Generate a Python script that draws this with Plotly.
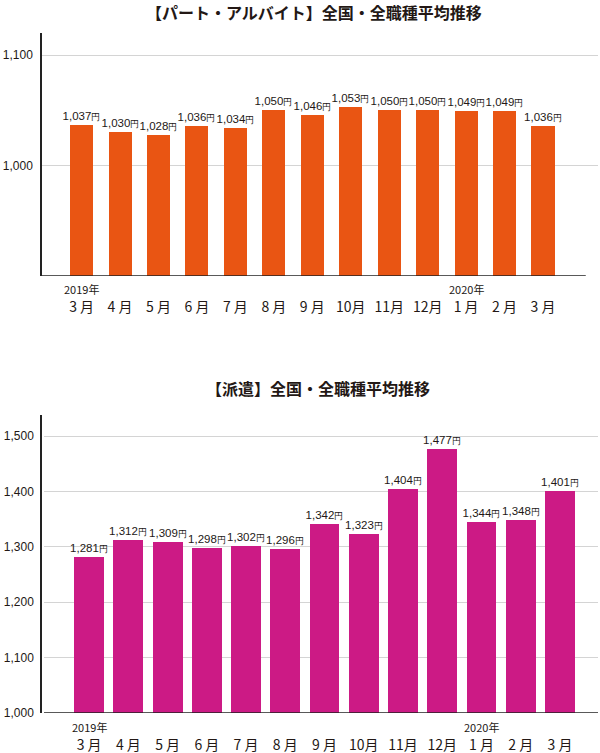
import plotly.graph_objects as go

months = ["3 月", "4 月", "5 月", "6 月", "7 月", "8 月", "9 月", "10月", "11月", "12月", "1 月", "2 月", "3 月"]
year_labels = ["2019年", "2020年"]
year_positions = [0, 10]
part_values = [1037, 1030, 1028, 1036, 1034, 1050, 1046, 1053, 1050, 1050, 1049, 1049, 1036]
haken_values = [1281, 1312, 1309, 1298, 1302, 1296, 1342, 1323, 1404, 1477, 1344, 1348, 1401]
title_part = "【パート・アルバイト】全国・全職種平均推移"
title_haken = "【派遣】全国・全職種平均推移"

ORANGE = "#E95513"
MAGENTA = "#CC1A85"
TXT = "#231815"
GRID = "#d4d4d4"
H = 753

def fmt(v):
    return f"{v:,}<span style='font-size:8.5px'>円</span>"

idx = list(range(len(months)))

fig = go.Figure()
fig.add_trace(go.Bar(x=idx, y=part_values, marker=dict(color=ORANGE, line=dict(width=0)),
                     width=0.6, text=[fmt(v) for v in part_values], textposition="outside",
                     constraintext="none",
                     textfont=dict(family="Liberation Sans", size=11.5, color=TXT),
                     cliponaxis=False, xaxis="x", yaxis="y", showlegend=False))
fig.add_trace(go.Bar(x=idx, y=haken_values, marker=dict(color=MAGENTA, line=dict(width=0)),
                     width=0.76, text=[fmt(v) for v in haken_values], textposition="outside",
                     constraintext="none",
                     textfont=dict(family="Liberation Sans", size=11.5, color=TXT),
                     cliponaxis=False, xaxis="x2", yaxis="y2", showlegend=False))

xcommon = dict(tickmode="array", tickvals=idx, ticktext=months, showgrid=False, zeroline=False,
               showline=False, ticks="", automargin=False,
               tickfont=dict(family="Noto Sans CJK JP", size=14, color=TXT))
fig.update_layout(
    width=600, height=H, margin=dict(l=0, r=0, t=0, b=0, pad=0), autosize=False,
    paper_bgcolor="white", plot_bgcolor="white", bargap=0,
    xaxis=dict(domain=[42/600, 598/600], range=[-1.03, 13.43], anchor="y",
               ticklabelstandoff=21, **xcommon),
    yaxis=dict(domain=[1-276/H, 1-33/H], range=[900, 1120], tickvals=[1000, 1100],
               ticktext=["1,000", "1,100"], showgrid=True, gridcolor=GRID, gridwidth=1,
               zeroline=False, showline=True, linecolor="#222", linewidth=1.5, ticks="",
               automargin=False,
               ticklabelstandoff=5, tickfont=dict(family="Liberation Sans", size=12, color=TXT)),
    xaxis2=dict(domain=[44/600, 598/600], range=[-1.15, 12.97], anchor="y2",
                ticklabelstandoff=22, **xcommon),
    yaxis2=dict(domain=[1-713/H, 1-415/H], range=[1000, 1538],
                tickvals=[1000, 1100, 1200, 1300, 1400, 1500],
                ticktext=["1,000", "1,100", "1,200", "1,300", "1,400", "1,500"],
                showgrid=True, gridcolor=GRID, gridwidth=1,
                zeroline=False, showline=True, linecolor="#222", linewidth=1.5, ticks="",
                automargin=False,
                ticklabelstandoff=4, tickfont=dict(family="Liberation Sans", size=12, color=TXT)),
)

fig.add_shape(type="line", xref="x domain", yref="y", x0=0, x1=0.978, y0=900, y1=900,
              line=dict(color="#222", width=1.5))
fig.add_shape(type="line", xref="x2 domain", yref="y2", x0=0, x1=1, y0=1000, y1=1000,
              line=dict(color="#222", width=1.5))

fig.add_annotation(text=f"<b>{title_part}</b>", x=314/600, y=1-12/H, xref="paper", yref="paper",
                   xanchor="center", yanchor="middle", showarrow=False,
                   font=dict(family="Noto Sans CJK JP", size=16, color=TXT))
fig.add_annotation(text=f"<b>{title_haken}</b>", x=318/600, y=1-388/H, xref="paper", yref="paper",
                   xanchor="center", yanchor="middle", showarrow=False,
                   font=dict(family="Noto Sans CJK JP", size=16, color=TXT))

for lab, pos in zip(year_labels, year_positions):
    fig.add_annotation(text=lab, x=pos, xref="x", y=1-289/H, yref="paper", showarrow=False,
                       xanchor="center", yanchor="middle",
                       font=dict(family="Noto Sans CJK JP", size=11, color=TXT))
    fig.add_annotation(text=lab, x=pos, xref="x2", y=1-726.5/H, yref="paper", showarrow=False,
                       xanchor="center", yanchor="middle",
                       font=dict(family="Noto Sans CJK JP", size=11, color=TXT))

fig.write_html("out.html", config={"displayModeBar": False},
               post_script="document.body.style.margin='0';document.body.style.overflow='hidden';")
